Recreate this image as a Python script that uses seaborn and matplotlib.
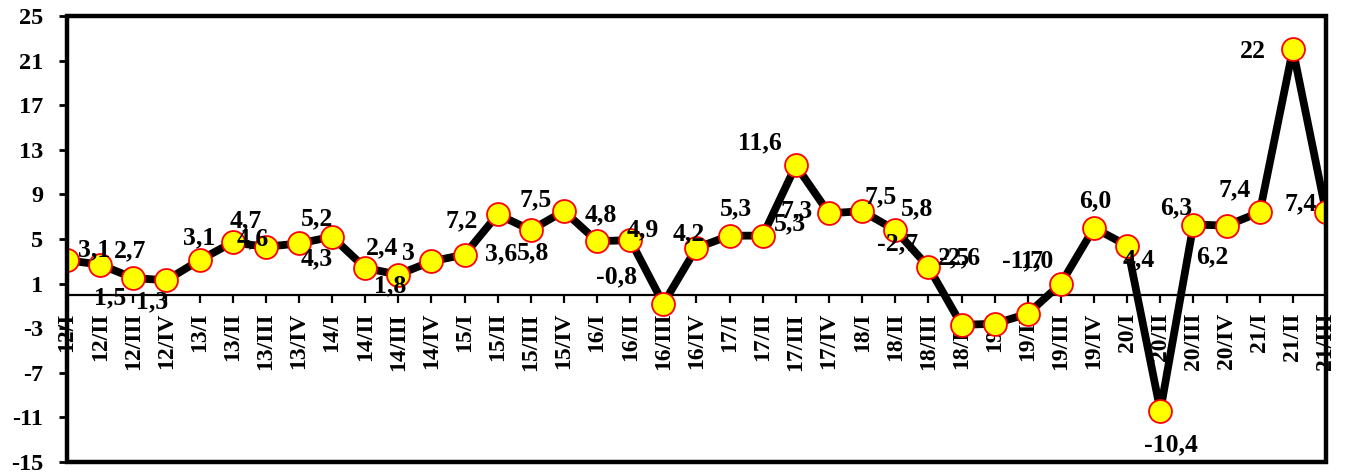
import matplotlib
matplotlib.use("Agg")
import matplotlib.pyplot as plt
from matplotlib.patches import Rectangle
import pandas as pd
import seaborn as sns

# quarters and growth values
quarters = ["12/I", "12/II", "12/III", "12/IV",
            "13/I", "13/II", "13/III", "13/IV",
            "14/I", "14/II", "14/III", "14/IV",
            "15/I", "15/II", "15/III", "15/IV",
            "16/I", "16/II", "16/III", "16/IV",
            "17/I", "17/II", "17/III", "17/IV",
            "18/I", "18/II", "18/III", "18/IV",
            "19/I", "19/II", "19/III", "19/IV",
            "20/I", "20/II", "20/III", "20/IV",
            "21/I", "21/II", "21/III"]
values = [3.1, 2.7, 1.5, 1.3,
          3.1, 4.7, 4.3, 4.6,
          5.2, 2.4, 1.8, 3.0,
          3.6, 7.2, 5.8, 7.5,
          4.8, 4.9, -0.8, 4.2,
          5.3, 5.3, 11.6, 7.3,
          7.5, 5.8, 2.5, -2.7,
          -2.6, -1.7, 1.0, 6.0,
          4.4, -10.4, 6.3, 6.2,
          7.4, 22.0, 7.4]
point_labels = ["3,1", "2,7", "1,5", "1,3",
                "3,1", "4,7", "4,3", "4,6",
                "5,2", "2,4", "1,8", "3",
                "3,6", "7,2", "5,8", "7,5",
                "4,8", "4,9", "-0,8", "4,2",
                "5,3", "5,3", "11,6", "7,3",
                "7,5", "5,8", "2,5", "-2,7",
                "-2,6", "-1,7", "1,0", "6,0",
                "4,4", "-10,4", "6,3", "6,2",
                "7,4", "22", "7,4"]
# where each data label sits relative to its marker (pixels, right / down)
label_shift = [(27, -10), (30, -14), (-23, 20), (-14, 22),
               (0, -22), (13, -22), (51, 12), (-46, -5),
               (-15, -18), (17, -20), (-8, 11), (-23, -8),
               (37, -1), (-36, 6), (2, 23), (-28, -11),
               (4, -26), (13, -10), (-47, -27), (-8, -14),
               (6, -27), (27, -12), (-36, -23), (-32, -3),
               (18, -14), (22, -21), (26, -9), (-64, -81),
               (-35, -66), (-5, -53), (-24, -23), (1, -27),
               (12, 14), (11, 34), (-17, -17), (-14, 31),
               (-25, -22), (-40, 2), (-25, -8)]

df = pd.DataFrame({"pos": range(len(quarters)), "value": values})

sns.set_style("white")
plt.rcParams["font.family"] = ["Liberation Serif", "DejaVu Serif"]
plt.rcParams["font.weight"] = "bold"
plt.rcParams["axes.unicode_minus"] = False

fig = plt.figure(figsize=(13.48, 4.75), dpi=100)
ax = fig.add_axes([67 / 1348, 13 / 475, (1326 - 67) / 1348, (462 - 16) / 475])

sns.lineplot(data=df, x="pos", y="value", ax=ax, color="black", linewidth=5.6,
             marker="o", markersize=16.5, markerfacecolor="#ffff00",
             markeredgecolor="#ff0000", markeredgewidth=1.3, zorder=3)

for i, (txt, (dx, dy)) in enumerate(zip(point_labels, label_shift)):
    ax.annotate(txt, (i, values[i]), xytext=(dx, -dy), textcoords="offset pixels",
                ha="center", va="center", fontsize=18.5, fontweight="bold",
                color="black", zorder=4)

ax.set_xlim(0, len(quarters) - 1)
ax.set_ylim(-15, 25)
ax.set_yticks(range(-15, 26, 4))
ax.set_xticks(range(len(quarters)))
ax.set_xticklabels(quarters)
ax.set_xlabel("")
ax.set_ylabel("")

for s in ["top", "right", "left"]:
    ax.spines[s].set_visible(False)
ax.spines["bottom"].set_position(("data", 0))
ax.spines["bottom"].set_linewidth(1.6)
ax.spines["bottom"].set_color("black")
ax.add_patch(Rectangle((0, 0), 1, 1, transform=ax.transAxes, fill=False,
                       edgecolor="black", linewidth=3.2, clip_on=False, zorder=5))

ax.tick_params(axis="y", direction="out", length=6, width=2, pad=11,
               labelsize=17.5, left=True, colors="black")
ax.tick_params(axis="x", direction="out", length=6, width=1.6, pad=7,
               labelsize=17, bottom=True, colors="black", labelrotation=90)
for t in ax.get_xticklabels() + ax.get_yticklabels():
    t.set_fontweight("bold")

fig.savefig("out.png", dpi=100)
